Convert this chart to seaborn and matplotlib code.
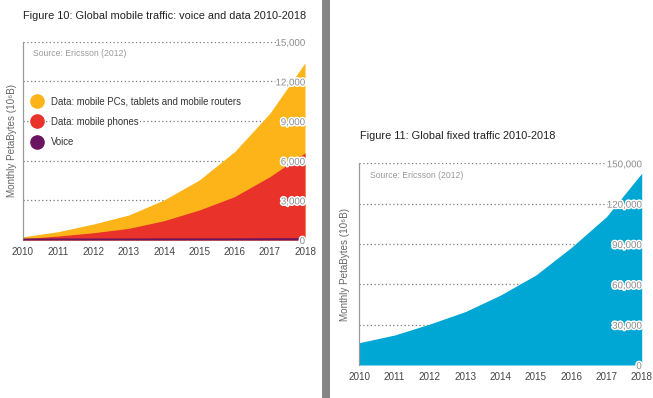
import matplotlib
matplotlib.use("Agg")
import matplotlib.pyplot as plt
import matplotlib.patheffects as pe
from matplotlib.lines import Line2D
from matplotlib.patches import Rectangle
import seaborn as sns
import numpy as np

years = [2010, 2011, 2012, 2013, 2014, 2015, 2016, 2017, 2018]
voice = [150, 150, 150, 150, 160, 160, 160, 170, 170]
data_phones = [100, 300, 550, 880, 1460, 2270, 3280, 4790, 6600]
data_total = [240, 630, 1210, 1890, 3030, 4540, 6680, 9580, 13410]
fixed = [16600, 22300, 30500, 39700, 52000, 66900, 87300, 110300, 142600]

mobile_ticks = [0, 3000, 6000, 9000, 12000, 15000]
fixed_ticks = [0, 30000, 60000, 90000, 120000, 150000]

left_title = "Figure 10: Global mobile traffic: voice and data 2010-2018"
right_title = "Figure 11: Global fixed traffic 2010-2018"
source = "Source: Ericsson (2012)"
ylab = "Monthly PetaBytes (10\u2076B)"
legend_labels = ["Data: mobile PCs, tablets and mobile routers",
                 "Data: mobile phones", "Voice"]

YELLOW = "#FCB418"
RED = "#E8322A"
PURPLE = "#6B1460"
BLUE = "#00A6D4"

sns.set_theme(style="white")
plt.rcParams["font.family"] = ["Liberation Sans", "DejaVu Sans"]

fig = plt.figure(figsize=(6.53, 3.98), dpi=100)
ax1 = fig.add_axes([0.0352, 0.397, 0.4319, 0.498])
ax2 = fig.add_axes([0.5502, 0.0829, 0.4325, 0.5068])

yrs = np.array(years, dtype=float)
v = np.array(voice, dtype=float)
ph = np.array(data_phones, dtype=float)
tot = np.array(data_total, dtype=float)

# mobile chart (stacked)
ax1.fill_between(yrs, 0, tot, color=YELLOW, lw=0, zorder=2)
ax1.fill_between(yrs, 0, ph, color=RED, lw=0, zorder=3)
ax1.fill_between(yrs, 0, v, color=PURPLE, lw=0, zorder=4)
ax1.set_ylim(0, 15000)

# fixed chart
ax2.fill_between(yrs, 0, np.array(fixed, dtype=float), color=BLUE, lw=0, zorder=2)
ax2.set_ylim(0, 150000)

for ax, ticks in ((ax1, mobile_ticks), (ax2, fixed_ticks)):
    ax.set_xlim(years[0], years[-1])
    ax.set_xticks(years)
    ax.set_xticklabels([str(y) for y in years])
    for t in ticks[1:]:
        ax.axhline(t, color="#7a7a7a", lw=0.9, ls=(0, (1, 2)), zorder=1)
    ax.yaxis.tick_right()
    ax.yaxis.set_label_position("left")
    ax.set_yticks(ticks)
    ax.set_yticklabels([f"{t:,}" for t in ticks])
    ax.tick_params(axis="y", length=0, pad=0, labelsize=7.0, labelcolor="#8a8a8a")
    ax.tick_params(axis="x", length=0, pad=5, labelsize=7.1, labelcolor="#444444")
    for lab in ax.get_yticklabels():
        lab.set_horizontalalignment("right")
        lab.set_path_effects([pe.withStroke(linewidth=2.2, foreground="white")])
        lab.set_zorder(10)
    ax.yaxis.set_zorder(10)
    sns.despine(ax=ax, top=True, right=True, bottom=True, left=False)
    ax.spines["left"].set_color("#9a9a9a")
    ax.spines["left"].set_linewidth(0.9)
    ax.set_facecolor("white")
    ax.text(0.037, 0.94, source, transform=ax.transAxes, fontsize=6.2,
            color="#9a9a9a", va="center", ha="left")

ax1.set_ylabel(ylab, fontsize=7.1, color="#666666", labelpad=4.5)
ax2.set_ylabel(ylab, fontsize=7.1, color="#666666", labelpad=6.5)

handles = [Line2D([], [], ls="none", marker="o", ms=9.5, color=c)
           for c in (YELLOW, RED, PURPLE)]
leg = ax1.legend(handles, legend_labels, loc="upper left",
                 bbox_to_anchor=(0.012, 0.755), frameon=False, fontsize=6.9,
                 handlelength=1.0, handletextpad=0.96, labelspacing=1.1,
                 borderaxespad=0.2)
leg.set_zorder(12)
for t in leg.get_texts():
    t.set_color("#333333")
    t.set_bbox(dict(facecolor="white", edgecolor="none", pad=1.0))

fig.text(23 / 653, 1 - 16 / 398, left_title, fontsize=7.9, color="#222222",
         ha="left", va="center")
fig.text(360 / 653, 1 - 136 / 398, right_title, fontsize=7.9, color="#222222",
         ha="left", va="center")

# crop edge of the left panel, then the grey divider
fig.add_artist(Rectangle((316 / 653, 0), 6 / 653, 1, transform=fig.transFigure,
                         facecolor="white", edgecolor="none", zorder=19))
fig.add_artist(Rectangle((322 / 653, 0), 8 / 653, 1, transform=fig.transFigure,
                         facecolor="#858585", edgecolor="none", zorder=20))

fig.savefig("out.png", dpi=100)
